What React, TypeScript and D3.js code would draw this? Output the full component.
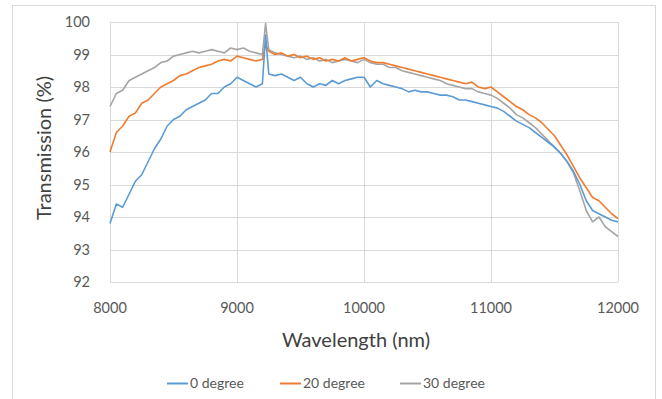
import { useEffect, useRef } from 'react'
import * as d3 from 'd3'

// wavelengths (nm), 50 nm steps plus the peak at 9225
const wavelengths = [
  8000, 8050, 8100, 8150, 8200, 8250, 8300, 8350, 8400, 8450,
  8500, 8550, 8600, 8650, 8700, 8750, 8800, 8850, 8900, 8950,
  9000, 9050, 9100, 9150, 9200, 9225, 9250, 9300, 9350, 9400,
  9450, 9500, 9550, 9600, 9650, 9700, 9750, 9800, 9850, 9900,
  9950, 10000, 10050, 10100, 10150, 10200, 10250, 10300, 10350, 10400,
  10450, 10500, 10550, 10600, 10650, 10700, 10750, 10800, 10850, 10900,
  10950, 11000, 11050, 11100, 11150, 11200, 11250, 11300, 11350, 11400,
  11450, 11500, 11550, 11600, 11650, 11700, 11750, 11800, 11850, 11900,
  11950, 12000,
]

const deg0 = [
  93.8, 94.4, 94.3, 94.7, 95.1, 95.3, 95.7, 96.1, 96.4, 96.8,
  97.0, 97.1, 97.3, 97.4, 97.5, 97.6, 97.8, 97.8, 98.0, 98.1,
  98.3, 98.2, 98.1, 98.0, 98.1, 99.6, 98.4, 98.35, 98.4, 98.3,
  98.2, 98.3, 98.1, 98.0, 98.1, 98.05, 98.2, 98.1, 98.2, 98.25,
  98.3, 98.3, 98.0, 98.2, 98.1, 98.05, 98.0, 97.95, 97.85, 97.9,
  97.85, 97.85, 97.8, 97.75, 97.75, 97.7, 97.6, 97.6, 97.55, 97.5,
  97.45, 97.4, 97.35, 97.25, 97.1, 96.95, 96.85, 96.75, 96.6, 96.45,
  96.3, 96.15, 95.95, 95.7, 95.4, 95.0, 94.5, 94.2, 94.1, 94.0,
  93.9, 93.85,
]

const deg20 = [
  96.0, 96.6, 96.8, 97.1, 97.2, 97.5, 97.6, 97.8, 98.0, 98.1,
  98.2, 98.35, 98.4, 98.5, 98.6, 98.65, 98.7, 98.8, 98.85, 98.8,
  98.95, 98.9, 98.85, 98.8, 98.85, 99.3, 99.1, 99.0, 99.05, 98.95,
  99.0, 98.9, 98.95, 98.85, 98.9, 98.8, 98.85, 98.8, 98.9, 98.8,
  98.85, 98.9, 98.8, 98.75, 98.75, 98.7, 98.65, 98.6, 98.55, 98.5,
  98.45, 98.4, 98.35, 98.3, 98.25, 98.2, 98.15, 98.1, 98.15, 98.0,
  97.95, 98.0, 97.85, 97.7, 97.55, 97.4, 97.3, 97.15, 97.05, 96.9,
  96.7, 96.5, 96.2, 95.9, 95.55, 95.2, 94.9, 94.6, 94.5, 94.3,
  94.1, 93.95,
]

const deg30 = [
  97.4, 97.8, 97.9, 98.2, 98.3, 98.4, 98.5, 98.6, 98.75, 98.8,
  98.95, 99.0, 99.05, 99.1, 99.05, 99.1, 99.15, 99.1, 99.05, 99.2,
  99.15, 99.2, 99.1, 99.05, 99.0, 99.95, 99.15, 99.05, 99.0, 98.95,
  98.9, 98.95, 98.85, 98.9, 98.8, 98.85, 98.75, 98.8, 98.85, 98.8,
  98.75, 98.85, 98.75, 98.7, 98.7, 98.6, 98.6, 98.5, 98.45, 98.4,
  98.35, 98.3, 98.25, 98.2, 98.1, 98.05, 98.0, 97.95, 97.95, 97.85,
  97.8, 97.75, 97.65, 97.5, 97.35, 97.15, 97.05, 96.9, 96.75, 96.55,
  96.35, 96.15, 95.95, 95.7, 95.35, 94.8, 94.2, 93.85, 94.0, 93.7,
  93.55, 93.4,
]

const seriesNames = ['0 degree', '20 degree', '30 degree']
const seriesColors = ['#5b9bd5', '#ed7d31', '#a5a5a5']
const xTicks = [8000, 9000, 10000, 11000, 12000]
const yTicks = [92, 93, 94, 95, 96, 97, 98, 99, 100]

const W = 662
const H = 399
const FONT = 'Lato, "Open Sans", sans-serif'

export default function App() {
  const svgRef = useRef<SVGSVGElement>(null)

  useEffect(() => {
    const svg = d3.select(svgRef.current)
    svg.selectAll('*').remove()

    const margin = { top: 22, right: 44, bottom: 117, left: 110 }
    const innerW = W - margin.left - margin.right
    const innerH = H - margin.top - margin.bottom

    // chart frame
    svg.append('rect')
      .attr('x', 12.5).attr('y', 5.5)
      .attr('width', 643).attr('height', 400)
      .attr('fill', '#fff')
      .attr('stroke', '#d9d9d9')

    const x = d3.scaleLinear().domain([8000, 12000]).range([0, innerW])
    const y = d3.scaleLinear().domain([92, 100]).range([innerH, 0])

    const g = svg.append('g').attr('transform', `translate(${margin.left},${margin.top})`)

    // grid
    g.selectAll('.hgrid').data(yTicks).enter().append('line')
      .attr('x1', 0).attr('x2', innerW)
      .attr('y1', d => Math.round(y(d)) + 0.5).attr('y2', d => Math.round(y(d)) + 0.5)
      .attr('stroke', '#d9d9d9').attr('stroke-width', 1)

    g.selectAll('.vgrid').data(xTicks).enter().append('line')
      .attr('x1', d => Math.round(x(d)) + 0.5).attr('x2', d => Math.round(x(d)) + 0.5)
      .attr('y1', 0).attr('y2', innerH)
      .attr('stroke', '#d9d9d9').attr('stroke-width', 1)

    // tick labels
    g.selectAll('.ylab').data(yTicks).enter().append('text')
      .attr('x', -20).attr('y', d => y(d))
      .attr('dy', '0.35em')
      .attr('text-anchor', 'end')
      .attr('font-family', FONT).attr('font-size', 14.5)
      .attr('fill', '#595959')
      .text(d => d)

    g.selectAll('.xlab').data(xTicks).enter().append('text')
      .attr('x', d => x(d)).attr('y', innerH + 26)
      .attr('dy', '0.35em')
      .attr('text-anchor', 'middle')
      .attr('font-family', FONT).attr('font-size', 14.5)
      .attr('fill', '#595959')
      .text(d => d)

    // axis titles
    svg.append('text')
      .attr('x', margin.left + innerW / 2 - 8).attr('y', 347)
      .attr('text-anchor', 'middle')
      .attr('font-family', FONT).attr('font-size', 20)
      .attr('fill', '#404040')
      .text('Wavelength (nm)')

    svg.append('text')
      .attr('transform', `translate(51,${margin.top + innerH / 2 - 4}) rotate(-90)`)
      .attr('text-anchor', 'middle')
      .attr('font-family', FONT).attr('font-size', 20)
      .attr('fill', '#404040')
      .text('Transmission (%)')

    // lines
    const allSeries = [deg0, deg20, deg30]
    const line = d3.line<number>()
      .x((_, i) => x(wavelengths[i]))
      .y(d => y(d))

    // draw 0 degree last so its spike stays visible like the original
    ;[2, 1, 0].forEach(si => {
      g.append('path')
        .datum(allSeries[si])
        .attr('fill', 'none')
        .attr('stroke', seriesColors[si])
        .attr('stroke-width', 1.6)
        .attr('stroke-linejoin', 'round')
        .attr('d', line)
    })

    // legend
    const legendX = [167, 280, 400]
    const legend = svg.append('g')
    seriesNames.forEach((name, i) => {
      legend.append('line')
        .attr('x1', legendX[i]).attr('x2', legendX[i] + 21)
        .attr('y1', 383.5).attr('y2', 383.5)
        .attr('stroke', seriesColors[i]).attr('stroke-width', 2)
      legend.append('text')
        .attr('x', legendX[i] + 23).attr('y', 383.5)
        .attr('dy', '0.35em')
        .attr('font-family', FONT).attr('font-size', 14)
        .attr('fill', '#595959')
        .text(name)
    })
  }, [])

  return (
    <svg
      ref={svgRef}
      width={W}
      height={H}
      style={{ position: 'absolute', left: 0, top: 0, background: '#fff' }}
    />
  )
}
